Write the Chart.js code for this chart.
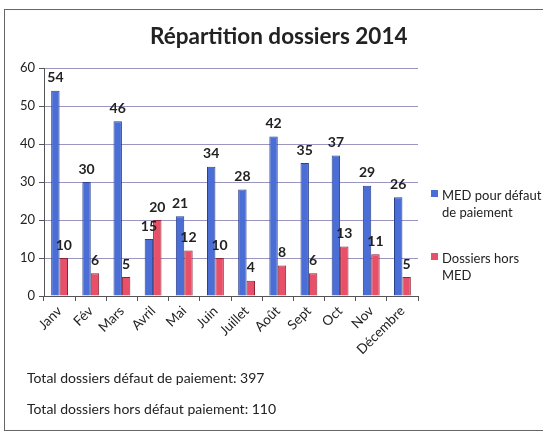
<!DOCTYPE html>
<html>
<head>
<meta charset="utf-8">
<script src="https://cdn.jsdelivr.net/npm/chart.js@4"></script>
<style>
  body { margin: 0; background: #fff; }
  #wrap { position: relative; width: 543px; height: 435px; overflow: hidden; font-family: Lato, "Open Sans", sans-serif; color: #222; }
  #frame { position: absolute; left: 4px; top: 9px; width: 560px; height: 422px; border: 1px solid #666; box-sizing: border-box; }
  #chart { position: absolute; left: 0; top: 0; }
  #title { position: absolute; left: 150px; top: 22px; width: 256px; text-align: center; font-size: 22.5px; font-weight: bold; white-space: nowrap; }
  .leg { position: absolute; left: 431px; font-size: 13px; line-height: 17px; }
  .leg span { position: absolute; left: 0; top: 3px; width: 7px; height: 7px; }
  .leg div { margin-left: 11px; }
  .total { position: absolute; left: 27px; font-size: 14px; }
</style>
</head>
<body>
<div id="wrap">
  <div id="frame"></div>
  <canvas id="chart" width="543" height="435"></canvas>
  <div id="title">Répartition dossiers 2014</div>
  <div class="leg" style="top:187px"><span style="background:#4a6ed6"></span><div>MED pour défaut<br>de paiement</div></div>
  <div class="leg" style="top:250px"><span style="background:#e8506a"></span><div>Dossiers hors<br>MED</div></div>
  <div class="total" style="top:369px">Total dossiers défaut de paiement: 397</div>
  <div class="total" style="top:400px">Total dossiers hors défaut paiement: 110</div>
</div>
<script>
// -------------------------------
// Data
// -------------------------------
const months = ['Janv', 'Fév', 'Mars', 'Avril', 'Mai', 'Juin', 'Juillet', 'Août', 'Sept', 'Oct', 'Nov', 'Décembre'];
const medDefaut = [54, 30, 46, 15, 21, 34, 28, 42, 35, 37, 29, 26];
const horsMed = [10, 6, 5, 20, 12, 10, 4, 8, 6, 13, 11, 5];
const yTicks = [0, 10, 20, 30, 40, 50, 60];

// value labels above each bar
const valueLabels = {
    id: 'valueLabels',
    afterDatasetsDraw(chart) {
        const ctx = chart.ctx;
        ctx.save();
        ctx.font = 'bold 14px Lato, sans-serif';
        ctx.fillStyle = '#222';
        ctx.textAlign = 'center';
        ctx.textBaseline = 'bottom';
        chart.data.datasets.forEach((ds, i) => {
            chart.getDatasetMeta(i).data.forEach((bar, j) => {
                ctx.fillText(ds.data[j], bar.x, bar.y - 6);
            });
        });
        ctx.restore();
    }
};

new Chart(document.getElementById('chart'), {
    type: 'bar',
    data: {
        labels: months,
        datasets: [{
            label: 'MED pour défaut de paiement',
            data: medDefaut,
            backgroundColor: '#4a6ed6',
            borderColor: '#2b3f8c',
            borderWidth: 1
        }, {
            label: 'Dossiers hors MED',
            data: horsMed,
            backgroundColor: '#e8506a',
            borderColor: '#8c2434',
            borderWidth: 1
        }]
    },
    options: {
        responsive: false,
        animation: false,
        layout: { padding: { left: 10, right: 125, top: 68, bottom: 0 } },
        datasets: { bar: { categoryPercentage: 0.54, barPercentage: 1 } },
        plugins: {
            legend: { display: false },
            tooltip: { enabled: false }
        },
        scales: {
            x: {
                afterFit: s => { s.height = 139; },
                grid: { drawOnChartArea: false, drawTicks: true, tickLength: 5, color: '#555' },
                border: { color: '#555' },
                ticks: {
                    minRotation: 45, maxRotation: 45, padding: 2,
                    color: '#222', font: { family: 'Lato, sans-serif', size: 13.5 }
                }
            },
            y: {
                min: 0, max: 60,
                afterFit: s => { s.width = 34; },
                afterBuildTicks: s => { s.ticks = yTicks.map(v => ({ value: v })); },
                grid: { color: '#9a96bf', tickLength: 5, tickColor: '#555' },
                border: { color: '#555' },
                ticks: { color: '#222', padding: 4, font: { family: 'Lato, sans-serif', size: 13 } }
            }
        }
    },
    plugins: [valueLabels]
});
</script>
</body>
</html>
